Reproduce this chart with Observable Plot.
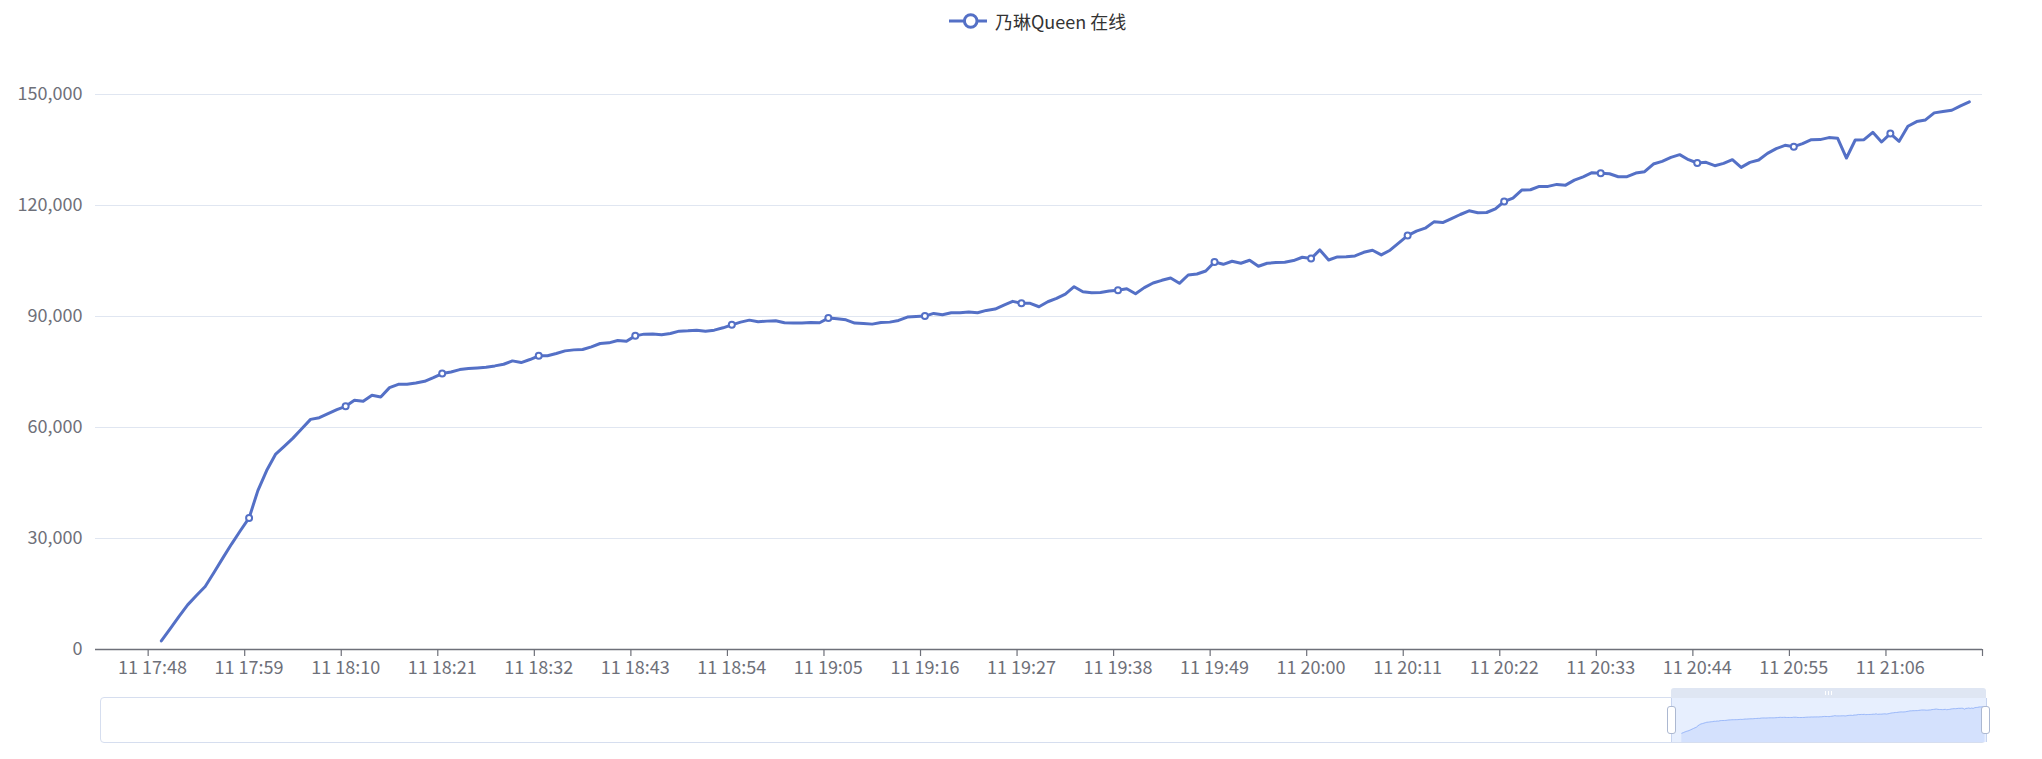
<!DOCTYPE html>
<html>
<head>
<meta charset="utf-8">
<script src="https://cdn.jsdelivr.net/npm/d3@7"></script>
<script src="https://cdn.jsdelivr.net/npm/@observablehq/plot@0.6"></script>
<style>
html, body { margin: 0; padding: 0; background: #fff; }
#wrap { position: relative; width: 2042px; height: 759px; overflow: hidden; font-family: "Noto Sans CJK SC", "Noto Sans", sans-serif; }
#wrap > * { position: absolute; left: 0; top: 0; }
#legend { left: 949px !important; top: 0; height: 42px; display: flex; align-items: center; font-size: 18px; color: #333; line-height: 1; }
#legend span { margin-left: 8px; white-space: nowrap; }
.sl-bg { left: 100px !important; top: 697px !important; width: 1886px; height: 46px; box-sizing: border-box; border: 1.5px solid #d6deef; border-radius: 4px; background: #fff; }
.sl-sel { left: 1671px !important; top: 698px !important; width: 315px; height: 44px; background: #e7effe; }
.sl-bar { left: 1671px !important; top: 688px !important; width: 315px; height: 10px; background: #dfe6f3; border-radius: 3px 3px 0 0; }
.sl-grip { top: 691px !important; width: 1px; height: 4px; background: #fff; }
.sl-edge { top: 698px !important; width: 1px; height: 44px; background: #c7d4ef; }
.sl-handle { top: 706px !important; width: 9px; height: 28px; box-sizing: border-box; border: 1.5px solid #acb8d1; border-radius: 3px; background: #fff; }
</style>
</head>
<body>
<div id="wrap"></div>
<script>
// ---- data ----
const seriesName = "乃琳Queen 在线";
const startTime = [17, 42];   // first category: day 11, 17:42, one category per minute
const online = [
  null, null, null, null, null, null, null, 2300, 5560, 8900,
  12060, 14590, 17030, 20820, 24700, 28500, 32100, 35550, 42950, 48370,
  52710, 54880, 57130, 59670, 62190, 62640, 63740, 64820, 65720, 67340,
  67070, 68700, 68240, 70780, 71680, 71700, 72040, 72490, 73490, 74570,
  75020, 75650, 75930, 76110, 76290, 76650, 77100, 78000, 77550, 78370,
  79360, 79400, 80000, 80710, 80980, 81070, 81800, 82700, 82880, 83510,
  83330, 84770, 85230, 85250, 85050, 85410, 86040, 86130, 86310, 86040,
  86310, 86940, 87750, 88480, 89020, 88570, 88750, 88840, 88300, 88210,
  88220, 88390, 88300, 89570, 89390, 89110, 88210, 88120, 87940, 88390,
  88480, 88930, 89840, 90020, 90110, 90840, 90480, 91020, 91030, 91190,
  91020, 91650, 92000, 93090, 94090, 93550, 93560, 92630, 93990, 94900,
  96070, 98050, 96690, 96420, 96480, 96880, 97070, 97500, 96150, 97800,
  99050, 99780, 100410, 98970, 101220, 101490, 102300, 104740, 104110, 104930,
  104390, 105200, 103570, 104390, 104570, 104660, 105110, 106010, 105650, 107990,
  105280, 106100, 106120, 106370, 107360, 107900, 106640, 107920, 109890, 111870,
  113060, 113870, 115580, 115400, 116480, 117570, 118560, 118020, 118110, 119100,
  121080, 122000, 124170, 124250, 125150, 125160, 125700, 125500, 126850, 127730,
  128860, 128700, 128590, 127780, 127790, 128770, 129130, 131210, 131930, 133010,
  133740, 132380, 131490, 131660, 130760, 131390, 132380, 130300, 131660, 132290,
  134090, 135360, 136260, 135900, 136720, 137800, 137810, 138350, 138160, 132830,
  137710, 137800, 139790, 137170, 139430, 137350, 141420, 142680, 143130, 145030,
  145390, 145750, 146940, 148030, null
];
const xTickLabels = [
  "11 17:48", "11 17:59", "11 18:10", "11 18:21", "11 18:32", "11 18:43", "11 18:54",
  "11 19:05", "11 19:16", "11 19:27", "11 19:38", "11 19:49", "11 20:00", "11 20:11",
  "11 20:22", "11 20:33", "11 20:44", "11 20:55", "11 21:06"
];
const yTicks = [0, 30000, 60000, 90000, 120000, 150000];

// ---- derived tables ----
const pad = n => String(n).padStart(2, "0");
const categories = online.map((_, i) => {
  const t = startTime[0] * 60 + startTime[1] + i;
  return `11 ${pad(Math.floor(t / 60))}:${pad(t % 60)}`;
});
const points = online.map((v, i) => ({i, v, t: categories[i]})).filter(d => d.v != null);
const labelIndex = xTickLabels.map(l => categories.indexOf(l));
const tickPositions = labelIndex.map(i => i - 0.5).concat([categories.length - 0.5]);
const symbols = points.filter(d => labelIndex.includes(d.i));

const wrap = document.getElementById("wrap");
const FONT = '"Noto Sans CJK SC", "Noto Sans", sans-serif';

// ---- main chart ----
const main = Plot.plot({
  width: 2042, height: 759,
  marginLeft: 95, marginRight: 60, marginTop: 94, marginBottom: 110,
  style: {fontSize: "18px", fontFamily: FONT, color: "#6E7079", background: "transparent", overflow: "visible"},
  x: {type: "linear", domain: [-0.5, categories.length - 0.5], label: null},
  y: {type: "linear", domain: [0, 150000], label: null},
  marks: [
    Plot.gridY({ticks: yTicks, stroke: "#E0E6F1", strokeOpacity: 1, strokeWidth: 1}),
    Plot.axisY({ticks: yTicks, tickSize: 0, tickPadding: 13, tickFormat: d3.format(","), label: null}),
    Plot.ruleY([0], {stroke: "#6E7079", strokeWidth: 1.5}),
    Plot.axisX({ticks: tickPositions, tickSize: 7, tickFormat: () => "", label: null, strokeWidth: 1.2}),
    Plot.axisX({ticks: labelIndex, tickSize: 0, tickPadding: 12, tickFormat: i => categories[i], label: null}),
    Plot.lineY(points, {x: "i", y: "v", stroke: "#5470c6", strokeWidth: 3, strokeLinejoin: "round", strokeLinecap: "round"}),
    Plot.dot(symbols, {x: "i", y: "v", r: 3, fill: "#fff", stroke: "#5470c6", strokeWidth: 2})
  ]
});
wrap.appendChild(main);

// ---- legend ----
const legend = document.createElement("div");
legend.id = "legend";
legend.innerHTML = `<svg width="38" height="20" viewBox="0 0 38 20"><line x1="0" x2="38" y1="10" y2="10" stroke="#5470c6" stroke-width="3"/><circle cx="21.7" cy="10" r="6.3" fill="#fff" stroke="#5470c6" stroke-width="3"/></svg><span></span>`;
legend.querySelector("span").textContent = seriesName;
wrap.appendChild(legend);

// ---- data zoom slider ----
function addDiv(cls, left) {
  const d = document.createElement("div");
  d.className = cls;
  if (left != null) d.style.left = left + "px";
  wrap.appendChild(d);
  return d;
}
addDiv("sl-bg");
addDiv("sl-sel");
addDiv("sl-bar");
[1825, 1828, 1831].forEach(x => addDiv("sl-grip", x));

const shadow = Plot.plot({
  width: 2042, height: 759,
  marginLeft: 1671, marginRight: 56, marginTop: 706, marginBottom: 17,
  style: {background: "transparent", overflow: "visible"},
  x: {type: "linear", domain: [0, categories.length - 1], axis: null},
  y: {type: "linear", domain: [-47900, 148000], axis: null},
  marks: [
    Plot.areaY(points, {x: "i", y1: -47900, y2: "v", fill: "#d4e1fd"}),
    Plot.lineY(points, {x: "i", y: "v", stroke: "#8fb0f7", strokeWidth: 0.8})
  ]
});
wrap.appendChild(shadow);

addDiv("sl-edge", 1670.5);
addDiv("sl-edge", 1985.5);
addDiv("sl-handle", 1667);
addDiv("sl-handle", 1981);
</script>
</body>
</html>
